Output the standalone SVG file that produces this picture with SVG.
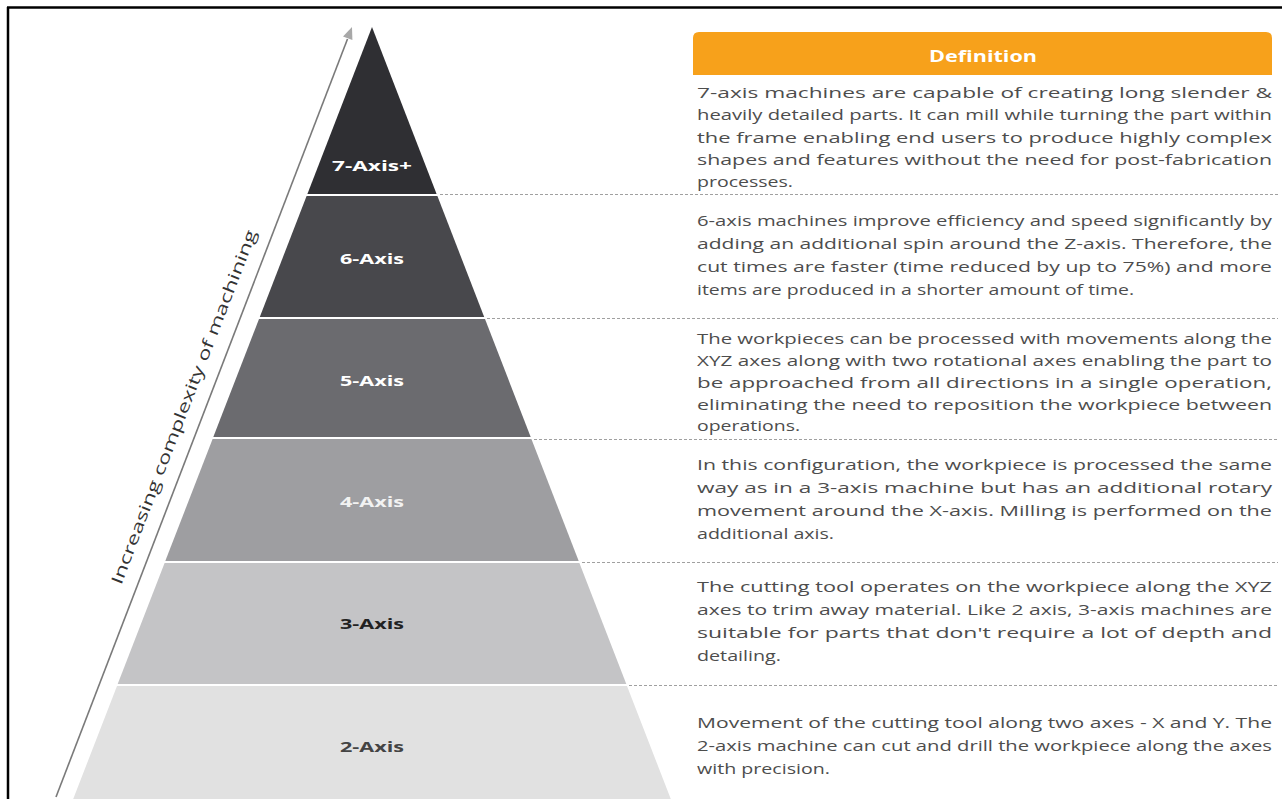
<svg xmlns="http://www.w3.org/2000/svg" width="1282" height="799" viewBox="0 0 1282 799">
<style>
.lbl{font-family:"Open Sans","Noto Sans",sans-serif;font-weight:700;font-size:14px;text-anchor:middle}
.body{font-family:"Open Sans","Noto Sans",sans-serif;font-size:14px;fill:#4d4d4d}
.dash{stroke:#a0a0a0;stroke-width:1.2;stroke-dasharray:3 2;fill:none}
.hdr{font-family:"Open Sans","Noto Sans",sans-serif;font-weight:700;font-size:16px;fill:#ffffff;text-anchor:middle}
</style>
<rect x="0" y="0" width="1282" height="799" fill="#ffffff"/>
<g id="frame" stroke="#000" stroke-width="2.5" fill="none">
<line x1="7" y1="7.5" x2="1282" y2="7.5"/>
<line x1="8" y1="7" x2="8" y2="799"/>
</g>
<g id="axis-arrow">
<line x1="56" y1="797" x2="347.5" y2="39" stroke="#7a7a7a" stroke-width="1.6"/>
<polygon points="352,27 352.4,40 343,36.4" fill="#a8a8a8"/>
<text x="189" y="409" transform="rotate(-68.96 189 409)" text-anchor="middle" font-family="Open Sans, Noto Sans, sans-serif" font-size="16" fill="#333" textLength="378" lengthAdjust="spacingAndGlyphs">Increasing complexity of machining</text>
</g>
<g id="tier-7">
<polygon points="372,27 436.6,194 307.4,194" fill="#2f2f33"/>
<text class="lbl" x="372" y="171" fill="#ffffff" textLength="80" lengthAdjust="spacingAndGlyphs">7-Axis+</text>
</g>
<g id="tier-6">
<polygon points="306.6,196 437.4,196 484.2,317 259.8,317" fill="#48484c"/>
<text class="lbl" x="372" y="264" fill="#ffffff" textLength="64" lengthAdjust="spacingAndGlyphs">6-Axis</text>
</g>
<g id="tier-5">
<polygon points="259,319 485,319 530.7,437 213.3,437" fill="#6b6b6f"/>
<text class="lbl" x="372" y="386" fill="#ffffff" textLength="64" lengthAdjust="spacingAndGlyphs">5-Axis</text>
</g>
<g id="tier-4">
<polygon points="212.6,439 531.4,439 578.7,561 165.3,561" fill="#9e9ea1"/>
<text class="lbl" x="372" y="507" fill="#f2f2f2" textLength="64" lengthAdjust="spacingAndGlyphs">4-Axis</text>
</g>
<g id="tier-3">
<polygon points="164.6,563 579.4,563 626.3,684 117.7,684" fill="#c4c4c6"/>
<text class="lbl" x="372" y="629" fill="#222" textLength="64" lengthAdjust="spacingAndGlyphs">3-Axis</text>
</g>
<g id="tier-2">
<polygon points="117,686 627,686 670.8,799 73.2,799" fill="#e1e1e1"/>
<text class="lbl" x="372" y="752" fill="#444" textLength="64" lengthAdjust="spacingAndGlyphs">2-Axis</text>
</g>
<g id="connectors">
<line class="dash" x1="440" y1="194.5" x2="1278" y2="194.5"/>
<line class="dash" x1="487" y1="318.5" x2="1278" y2="318.5"/>
<line class="dash" x1="534" y1="439.5" x2="1278" y2="439.5"/>
<line class="dash" x1="582" y1="562.5" x2="1278" y2="562.5"/>
<line class="dash" x1="629" y1="685.5" x2="1278" y2="685.5"/>
</g>
<g id="definition-header">
<path d="M693,75 V38 Q693,32 699,32 H1266 Q1272,32 1272,38 V75 Z" fill="#f7a11b"/>
<text class="hdr" x="983" y="62" textLength="108" lengthAdjust="spacingAndGlyphs">Definition</text>
</g>
<g id="def-7" class="body">
<text x="697" y="98" textLength="575" lengthAdjust="spacingAndGlyphs">7-axis machines are capable of  creating long slender &amp;</text>
<text x="697" y="120" textLength="575" lengthAdjust="spacingAndGlyphs">heavily detailed parts. It can mill while turning the part within</text>
<text x="697" y="143" textLength="575" lengthAdjust="spacingAndGlyphs">the frame enabling end users to produce highly complex</text>
<text x="697" y="165" textLength="575" lengthAdjust="spacingAndGlyphs">shapes and features without the need for post-fabrication</text>
<text x="697" y="187" textLength="96" lengthAdjust="spacingAndGlyphs">processes.</text>
</g>
<g id="def-6" class="body">
<text x="697" y="226" textLength="575" lengthAdjust="spacingAndGlyphs">6-axis machines improve efficiency and speed significantly by</text>
<text x="697" y="249" textLength="575" lengthAdjust="spacingAndGlyphs">adding an additional spin around the Z-axis. Therefore, the</text>
<text x="697" y="272" textLength="575" lengthAdjust="spacingAndGlyphs">cut times are faster (time reduced by up to 75%) and more</text>
<text x="697" y="295" textLength="437" lengthAdjust="spacingAndGlyphs">items are produced in a shorter amount of time.</text>
</g>
<g id="def-5" class="body">
<text x="697" y="344" textLength="575" lengthAdjust="spacingAndGlyphs">The workpieces can be processed with movements along the</text>
<text x="697" y="366" textLength="575" lengthAdjust="spacingAndGlyphs">XYZ axes along with two rotational axes enabling the part to</text>
<text x="697" y="388" textLength="575" lengthAdjust="spacingAndGlyphs">be approached from all directions in a single operation,</text>
<text x="697" y="410" textLength="575" lengthAdjust="spacingAndGlyphs">eliminating the need to reposition the workpiece between</text>
<text x="697" y="431" textLength="103" lengthAdjust="spacingAndGlyphs">operations.</text>
</g>
<g id="def-4" class="body">
<text x="697" y="470" textLength="575" lengthAdjust="spacingAndGlyphs">In this configuration, the workpiece is processed the same</text>
<text x="697" y="493" textLength="575" lengthAdjust="spacingAndGlyphs">way as in a 3-axis machine but has an additional rotary</text>
<text x="697" y="516" textLength="575" lengthAdjust="spacingAndGlyphs">movement around the X-axis. Milling is performed on the</text>
<text x="697" y="539" textLength="137" lengthAdjust="spacingAndGlyphs">additional axis.</text>
</g>
<g id="def-3" class="body">
<text x="697" y="592" textLength="575" lengthAdjust="spacingAndGlyphs">The cutting tool operates on the workpiece along the XYZ</text>
<text x="697" y="615" textLength="575" lengthAdjust="spacingAndGlyphs">axes to trim away material. Like 2 axis, 3-axis machines are</text>
<text x="697" y="638" textLength="575" lengthAdjust="spacingAndGlyphs">suitable for parts that don't require a lot of depth and</text>
<text x="697" y="661" textLength="84" lengthAdjust="spacingAndGlyphs">detailing.</text>
</g>
<g id="def-2" class="body">
<text x="697" y="728" textLength="575" lengthAdjust="spacingAndGlyphs">Movement of the cutting tool along two axes - X and Y. The</text>
<text x="697" y="751" textLength="575" lengthAdjust="spacingAndGlyphs">2-axis machine can cut and drill the workpiece along the axes</text>
<text x="697" y="774" textLength="133" lengthAdjust="spacingAndGlyphs">with precision.</text>
</g>
</svg>
